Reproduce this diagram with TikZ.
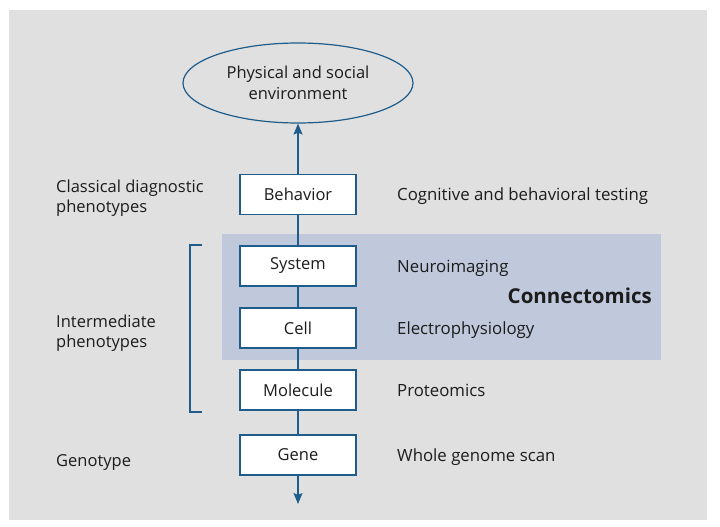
\documentclass[tikz,border=0pt]{standalone}
\usepackage{fontspec}
\setmainfont{Open Sans}
\usetikzlibrary{arrows.meta,shapes.geometric}
\definecolor{panel}{RGB}{224,224,224}
\definecolor{band}{RGB}{192,201,220}
\definecolor{edge}{RGB}{30,92,140}
\definecolor{ink}{RGB}{28,28,28}
\tikzset{
  levelbox/.style={draw=edge,line width=1.2pt,fill=white,minimum width=116pt,minimum height=40pt,inner sep=0pt,text=ink,font=\fontsize{16.5}{19}\selectfont},
  sidetext/.style={anchor=base west,text=ink,font=\fontsize{16.8}{19}\selectfont,inner sep=0pt},
  lefttext/.style={anchor=west,align=left,text=ink,font=\fontsize{16.5}{20.5}\selectfont,inner sep=0pt},
  link/.style={draw=edge,line width=1.2pt},
  tip/.style={-{Stealth[length=11pt,width=9pt,inset=2pt]}}
}
\begin{document}
\begin{tikzpicture}[x=1pt,y=-1pt]
\useasboundingbox (0,0) rectangle (720,527);
\fill[white] (0,0) rectangle (720,527);
\fill[panel] (9,10) rectangle (707,520);
\fill[band] (222,234) rectangle (661,360);

% environment at the top
\node[ellipse,draw=edge,line width=1.2pt,minimum width=230pt,minimum height=80pt,inner sep=0pt,align=center,text=ink,font=\fontsize{16.5}{20.5}\selectfont] (env) at (298,83) {Physical and social\\environment};

% levels
\node[levelbox] (beh) at (298,194.5) {Behavior};
\node[levelbox] (sys) at (298,266) {System};
\node[levelbox] (cell) at (298,328) {Cell};
\node[levelbox] (mol) at (298,390) {Molecule};
\node[levelbox] (gene) at (298,455) {Gene};
\coordinate (down) at (298,504);

\draw[link,tip] (beh) -- (env);
\draw[link] (beh) -- (sys);
\draw[link] (sys) -- (cell);
\draw[link] (cell) -- (mol);
\draw[link] (mol) -- (gene);
\draw[link,tip] (gene) -- (down);

% methods
\node[sidetext] (t1) at (397,200.5) {Cognitive and behavioral testing};
\node[sidetext] (t2) at (397,272.5) {Neuroimaging};
\node[sidetext] (t3) at (397,334.5) {Electrophysiology};
\node[sidetext] (t4) at (397,396.5) {Proteomics};
\node[sidetext] (t5) at (397,461.5) {Whole genome scan};
\node[anchor=east,text=ink,inner sep=0pt,font=\fontsize{20.5}{24}\selectfont\bfseries] (conn) at (652,296) {Connectomics};

% phenotype groups
\node[lefttext] (l1) at (56,198) {Classical diagnostic\\phenotypes};
\node[lefttext] (l2) at (56,333) {Intermediate\\phenotypes};
\node[lefttext] (l3) at (56,463) {Genotype};

\draw[edge,line width=1.2pt] (202,245) -- (190,245) -- (190,412) -- (202,412);
\end{tikzpicture}
\end{document}
